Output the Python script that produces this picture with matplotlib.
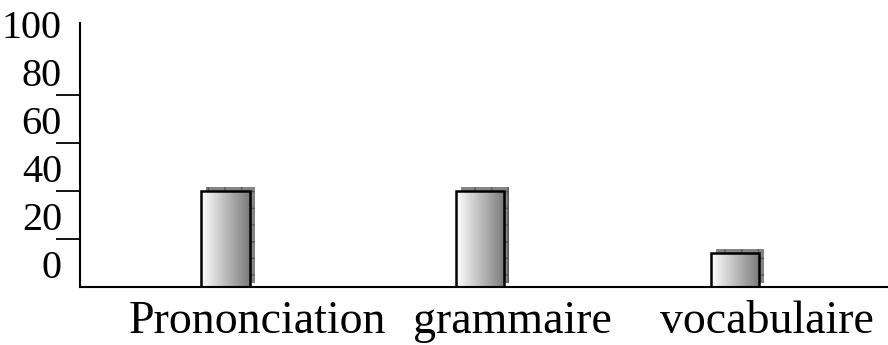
import numpy as np
import matplotlib
matplotlib.use('Agg')
import matplotlib.pyplot as plt
from matplotlib.colors import LinearSegmentedColormap
from matplotlib.transforms import ScaledTranslation

categories = ['Prononciation', 'grammaire', 'vocabulaire']
values = [40, 40, 14]
yticks = [0, 20, 40, 60, 80, 100]

plt.rcParams['font.family'] = ['Liberation Serif', 'DejaVu Serif']

fig = plt.figure(figsize=(8.88, 3.45), dpi=100)
ax = fig.add_axes([80 / 888, 58 / 345, 808 / 888, 264 / 345])

x = np.arange(len(categories))
width = 0.19

# shadow behind each bar, shifted right and up
shadow_tr = ax.transData + ScaledTranslation(5 / 100, 4 / 100, fig.dpi_scale_trans)
ax.bar(x, values, width, color='#858585', edgecolor='#5a5a5a', linewidth=0,
       hatch='+', transform=shadow_tr, zorder=1)

# gradient fill clipped to the bars
bars = ax.bar(x, values, width, facecolor='none', edgecolor='black',
              linewidth=1.8, zorder=3)
cmap = LinearSegmentedColormap.from_list('bar', ['#ffffff', '#7a7a7a'])
grad = np.linspace(0, 1, 256).reshape(1, -1)
for b in bars:
    im = ax.imshow(grad, cmap=cmap, aspect='auto', zorder=2,
                   extent=[b.get_x(), b.get_x() + b.get_width(), 0, b.get_height()])
    im.set_clip_path(b)

ax.set_xlim(-0.57, 2.6)
ax.set_ylim(0, 110)

for s in ['top', 'right']:
    ax.spines[s].set_visible(False)
for s in ['left', 'bottom']:
    ax.spines[s].set_linewidth(1.5)

ax.set_xticks(x)
ax.set_xticklabels(categories, fontsize=33)
ax.tick_params(axis='x', length=0, pad=10)
offset = ScaledTranslation(32 / 100, 0, fig.dpi_scale_trans)
for lbl in ax.get_xticklabels():
    lbl.set_transform(lbl.get_transform() + offset)

ax.set_yticks(yticks)
ax.set_yticklabels([str(v) for v in yticks], fontsize=29)
ax.tick_params(axis='y', direction='out', length=17, width=1.3, pad=-4)
for lbl in ax.get_yticklabels():
    lbl.set_va('bottom')
ticks = ax.yaxis.get_major_ticks()
ticks[0].tick1line.set_visible(False)
ticks[-1].tick1line.set_visible(False)
ax.set_yticks([100], minor=True)
ax.tick_params(axis='y', which='minor', direction='in', length=11, width=1.3)

fig.savefig('out.png', dpi=100)
